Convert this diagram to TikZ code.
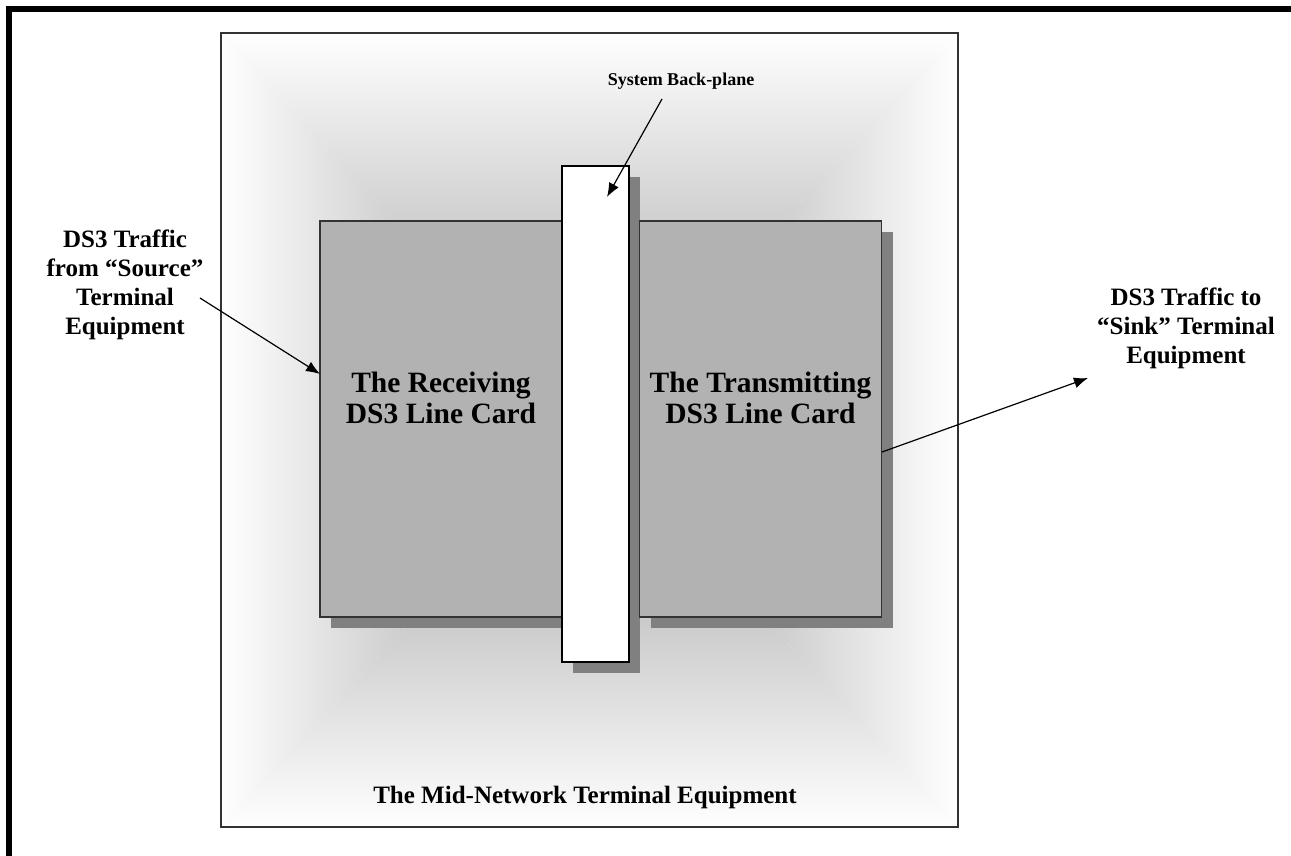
\documentclass[tikz,border=0pt]{standalone}
\usepackage{fontspec}
\setmainfont{Liberation Serif}
\usetikzlibrary{arrows.meta,shadows}

\definecolor{cardgray}{RGB}{178,178,178}
\definecolor{shadegray}{RGB}{128,128,128}
\definecolor{glowgray}{RGB}{155,155,155}
\definecolor{edgegray}{RGB}{51,51,51}

\tikzset{
  card/.style={draw=edgegray, line width=1.5pt, fill=cardgray, inner sep=0pt,
    minimum width=242pt, minimum height=396pt,
    drop shadow={shadow xshift=11pt, shadow yshift=-11pt, fill=shadegray, opacity=1}},
  plane/.style={card, draw=black, fill=white, minimum width=67pt, minimum height=496pt},
  cardtext/.style={font=\fontsize{29.5}{31}\selectfont\bfseries, align=center},
  sidetext/.style={font=\fontsize{25}{29}\selectfont\bfseries, align=center},
  pointer/.style={-{Latex[length=14pt,width=11pt]}, line width=1.2pt}
}

\begin{document}
\begin{tikzpicture}[x=1pt,y=-1pt]
\useasboundingbox (0,0) rectangle (1291,856);

% page frame
\draw[line width=6pt] (9,856) -- (9,9) -- (1291,9);

% shaded inside of the equipment box
\coordinate (nw) at (221,33);
\coordinate (ne) at (958,33);
\coordinate (se) at (958,827);
\coordinate (sw) at (221,827);
\coordinate (mc) at (589.5,430);
\shade[top color=white, bottom color=glowgray] (nw) -- (ne) -- (mc) -- cycle;
\shade[top color=glowgray, bottom color=white] (sw) -- (se) -- (mc) -- cycle;
\shade[left color=white, right color=glowgray] (nw) -- (sw) -- (mc) -- cycle;
\shade[left color=glowgray, right color=white] (ne) -- (se) -- (mc) -- cycle;
\node[draw=edgegray, line width=1.5pt, minimum width=737pt, minimum height=794pt] (mid) at (mc) {};

% cards and back-plane
\node[card] (rcv) at (441,419) {};
\node[plane] (bplane) at (595.5,414) {};
\node[card] (xmt) at (760.5,419) {};

\node[cardtext] (rcvtxt) at (441,398) {The Receiving\\DS3 Line Card};
\node[cardtext] (xmttxt) at (760.5,398) {The Transmitting\\DS3 Line Card};

% labels
\node[font=\fontsize{18}{20}\selectfont\bfseries] (bptxt) at (681,81) {System Back-plane};
\node[sidetext] (srctxt) at (125,285) {DS3 Traffic\\from “Source”\\Terminal\\Equipment};
\node[sidetext] (sinktxt) at (1186,328) {DS3 Traffic to\\“Sink” Terminal\\Equipment};
\node[sidetext] (midtxt) at (585,797) {The Mid-Network Terminal Equipment};

% pointers
\coordinate (bpfoot) at (662,99);
\coordinate (bphead) at (607,197);
\coordinate (srcfoot) at (200,298);
\coordinate (srchead) at (320,374);
\coordinate (sinkfoot) at (882,452);
\coordinate (sinkhead) at (1088,378);
\draw[pointer] (bpfoot) -- (bphead);
\draw[pointer] (srcfoot) -- (srchead);
\draw[pointer] (sinkfoot) -- (sinkhead);
\end{tikzpicture}
\end{document}
